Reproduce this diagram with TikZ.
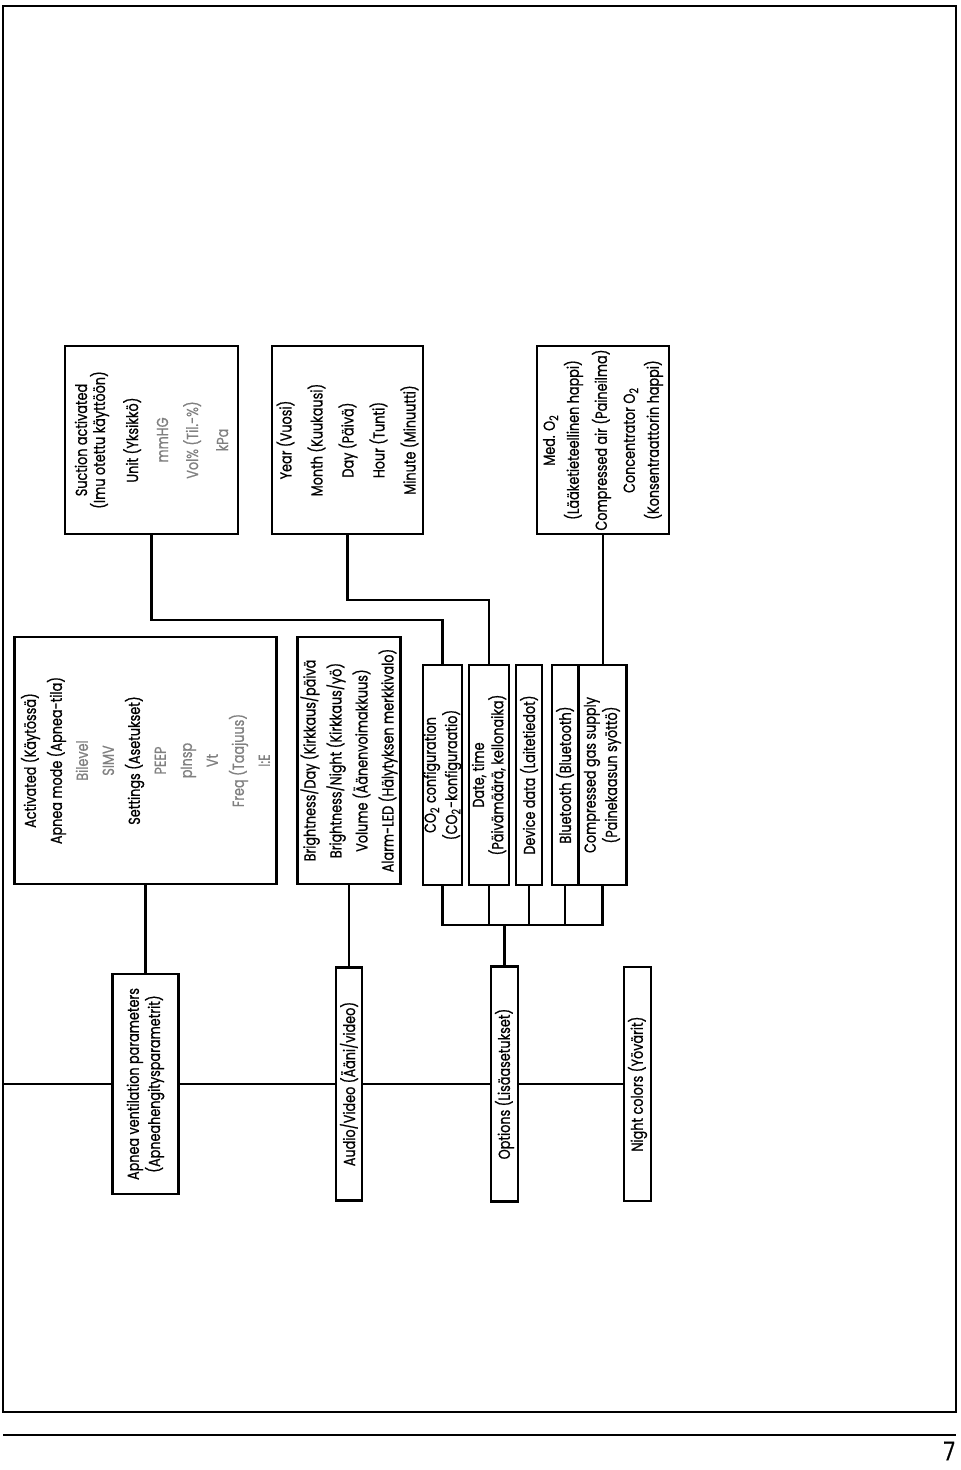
\documentclass[tikz,border=0pt]{standalone}
\usepackage{fontspec}
\setmainfont{Poppins}[FakeStretch=0.8,FakeBold=0.8]
\definecolor{subgray}{gray}{0.5}

\begin{document}
\begin{tikzpicture}
[-,x=0.5pt,y=-0.5pt,line width=1.1pt,%
  box/.style={draw,rotate=90,align=center,inner sep=0pt,line width=1.1pt},%
  every node/.style={font=\fontsize{8}{9}\selectfont}]
\useasboundingbox (0,0) rectangle (960,1470);
\draw[line width=1.4pt] (3,6) rectangle (956,1412);
\draw[line width=1.2pt] (3,1435) -- (956,1435);
\node[font=\fontsize{13}{13}\selectfont,anchor=east,inner sep=0pt] (page) at (956,1451) {7};

% main row
\coordinate (start) at (3,1084);
\node[box,minimum width=110pt,minimum height=33pt] (apnea) at (145.5,1084)
  {Apnea ventilation parameters\\(Apneahengitysparametrit)};
\node[box,minimum width=116.5pt,minimum height=13pt] (audio) at (349,1084)
  {Audio/Video (Ääni/video)};
\node[box,minimum width=117.5pt,minimum height=13.5pt] (opt) at (504.5,1084)
  {Options (Lisäasetukset)};
\node[box,minimum width=117pt,minimum height=13.5pt] (night) at (637.5,1084)
  {Night colors (Yövärit)};

% second row
\node[box,minimum width=123.5pt,minimum height=131pt,font=\fontsize{8}{13}\selectfont] (act) at (145.5,760.5)
  {Activated (Käytössä)\\Apnea mode (Apnea-tila)\\\textcolor{subgray}{Bilevel}\\\textcolor{subgray}{SIMV}\\
   Settings (Asetukset)\\\textcolor{subgray}{PEEP}\\\textcolor{subgray}{pInsp}\\\textcolor{subgray}{Vt}\\
   \textcolor{subgray}{Freq (Taajuus)}\\\textcolor{subgray}{I:E}};
\node[box,minimum width=123.5pt,minimum height=51.5pt,font=\fontsize{8}{13}\selectfont] (bright) at (349,760.5)
  {Brightness/Day (Kirkkaus/päivä\\Brightness/Night (Kirkkaus/yö)\\Volume (Äänenvoimakkuus)\\Alarm-LED (Hälytyksen merkkivalo)};
\node[box,minimum width=110pt,minimum height=19.5pt,font=\fontsize{8}{8.3}\selectfont] (co2) at (442.5,775)
  {CO\textsubscript{2} configuration\\(CO\textsubscript{2}-konfiguraatio)};
\node[box,minimum width=110pt,minimum height=20pt,font=\fontsize{8}{8.3}\selectfont] (date) at (489,775)
  {Date, time\\(Päivämäärä, kellonaika)};
\node[box,minimum width=110pt,minimum height=13pt] (dev) at (529,775)
  {Device data (Laitetiedot)};
\node[box,minimum width=110pt,minimum height=13pt] (blue) at (565,775)
  {Bluetooth (Bluetooth)};
\node[box,minimum width=110pt,minimum height=24pt,font=\fontsize{8}{8.3}\selectfont] (gas) at (602.5,775)
  {Compressed gas supply\\(Painekaasun syöttö)};

% third row
\node[box,minimum width=94pt,minimum height=86.5pt] (suction) at (151.5,440)
  {Suction activated\\(Imu otettu käyttöön)\\[6pt]Unit (Yksikkö)\\[6pt]\textcolor{subgray}{mmHG}\\[6pt]
   \textcolor{subgray}{Vol\% (Til.-\%)}\\[6pt]\textcolor{subgray}{kPa}};
\node[box,minimum width=94pt,minimum height=75.5pt,font=\fontsize{8}{15.5}\selectfont] (year) at (347.5,440)
  {Year (Vuosi)\\Month (Kuukausi)\\Day (Päivä)\\Hour (Tunti)\\Minute (Minuutti)};
\node[box,minimum width=94pt,minimum height=66pt,font=\fontsize{8}{12}\selectfont] (med) at (603,440)
  {Med. O\textsubscript{2}\\(Lääketieteellinen happi)\\[2pt]Compressed air (Paineilma)\\[2pt]
   Concentrator O\textsubscript{2}\\(Konsentraattorin happi)};

% connectors
\draw (start) -- (apnea) -- (audio) -- (opt) -- (night);
\draw (act.west) -- (apnea.east);
\draw (bright.west) -- (audio.east);
\coordinate (bus) at (504.5,925);
\draw (opt.east) -- (bus);
\draw (co2.west) |- (bus) -| (gas.west);
\foreach \n in {date,dev,blue}
  \draw (\n.west) -- (\n.west |- bus);
\draw (suction.west) -- ++(0,85) -| (co2.east);
\draw (year.west) -- ++(0,65) -| (date.east);
\draw (med.west) -- (med.west |- gas.east);
\end{tikzpicture}
\end{document}
